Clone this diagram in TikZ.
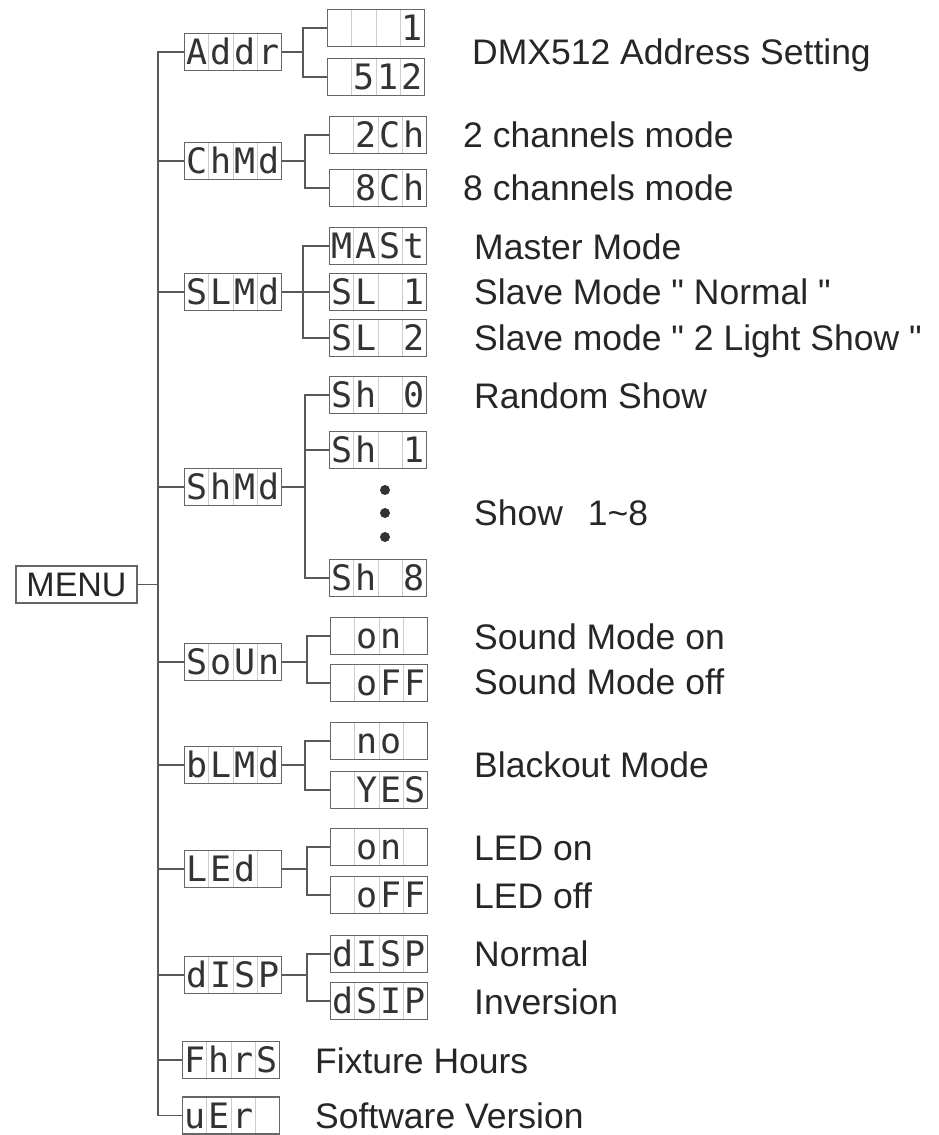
\documentclass[tikz,border=0pt]{standalone}
\usepackage{fontspec}
\setmainfont{Liberation Sans}
\newfontfamily\segfont{DejaVu Sans Mono}
\usepackage{tikz}

% four cells of the display
\newcommand{\seg}[4]{\makebox[24.25pt]{#1}\makebox[24.25pt]{#2}\makebox[24.25pt]{#3}\makebox[24.25pt]{#4}}

\begin{document}
\begin{tikzpicture}[x=1pt,y=-1pt,
  lcd/.style={draw=black!60, line width=1.5pt, fill=white,
    minimum width=97pt, minimum height=37pt, inner sep=0pt,
    text height=25pt, text depth=0pt, text=black!80,
    font=\segfont\fontsize{35}{35}\selectfont,
    path picture={\foreach \k in {1,2,3}
      \draw[black!20,line width=1pt]
        ([xshift=\k*24.25pt]path picture bounding box.north west) --
        ([xshift=\k*24.25pt]path picture bounding box.south west);}},
  lbl/.style={anchor=west, inner sep=0pt, text height=25pt, text depth=0pt,
    text=black!85, font=\fontsize{35.5}{42}\selectfont},
  wire/.style={draw=black!65, line width=1.5pt}]
  \useasboundingbox (0,0) rectangle (939,1135);
  % Menu and trunk
  \node[draw=black!60, line width=1.5pt, minimum width=121pt, minimum height=37pt,
    inner sep=0pt, text=black!85, font=\fontsize{34}{40}\selectfont] (menu) at (76.5,584.5) {MENU};
  \coordinate (trunk) at (158,584.5);
  % First level
  \node[lcd] (addr) at (233,52)   {\seg{A}{d}{d}{r}};
  \node[lcd] (chmd) at (233,161)  {\seg{C}{h}{M}{d}};
  \node[lcd] (slmd) at (233,292)  {\seg{S}{L}{M}{d}};
  \node[lcd] (shmd) at (233,487)  {\seg{S}{h}{M}{d}};
  \node[lcd] (soun) at (233,662)  {\seg{S}{o}{U}{n}};
  \node[lcd] (blmd) at (233,765)  {\seg{b}{L}{M}{d}};
  \node[lcd] (led)  at (233,869)  {\seg{L}{E}{d}{}};
  \node[lcd] (disp) at (233,975)  {\seg{d}{I}{S}{P}};
  \node[lcd] (fhrs) at (231,1060) {\seg{F}{h}{r}{S}};
  \node[lcd] (ver)  at (231,1115.5) {\seg{u}{E}{r}{}};
  \foreach \n in {addr,chmd,slmd,shmd,soun,blmd,led,disp,fhrs,ver}
    \draw[wire] (menu.east) -- (trunk) |- (\n.west);
  % Second level
  \node[lcd] (addra) at (376,28)   {\seg{}{}{}{1}};
  \node[lcd] (addrb) at (376,77)   {\seg{}{5}{1}{2}};
  \node[lcd] (chmda) at (378,135)  {\seg{}{2}{C}{h}};
  \node[lcd] (chmdb) at (378,188)  {\seg{}{8}{C}{h}};
  \node[lcd] (slmda) at (378,246)  {\seg{M}{A}{S}{t}};
  \node[lcd] (slmdb) at (378,292)  {\seg{S}{L}{}{1}};
  \node[lcd] (slmdc) at (378,338)  {\seg{S}{L}{}{2}};
  \node[lcd] (shmda) at (378,395)  {\seg{S}{h}{}{0}};
  \node[lcd] (shmdb) at (378,450)  {\seg{S}{h}{}{1}};
  \node[lcd] (shmdc) at (378,578)  {\seg{S}{h}{}{8}};
  \node[lcd] (souna) at (379,636)  {\seg{}{o}{n}{}};
  \node[lcd] (sounb) at (379,683)  {\seg{}{o}{F}{F}};
  \node[lcd] (blmda) at (379,741)  {\seg{}{n}{o}{}};
  \node[lcd] (blmdb) at (379,790)  {\seg{}{Y}{E}{S}};
  \node[lcd] (leda)  at (379,847)  {\seg{}{o}{n}{}};
  \node[lcd] (ledb)  at (379,895)  {\seg{}{o}{F}{F}};
  \node[lcd] (dispa) at (379,954)  {\seg{d}{I}{S}{P}};
  \node[lcd] (dispb) at (379,1001) {\seg{d}{S}{I}{P}};
  \foreach \p/\f in {addr/303,chmd/305,slmd/303,shmd/305,soun/307,blmd/305,led/307,disp/307}
    \coordinate (\p-f) at (\f,0 |- \p.east);
  \foreach \p/\c in {addr/addra,addr/addrb,chmd/chmda,chmd/chmdb,
      slmd/slmda,slmd/slmdb,slmd/slmdc,shmd/shmda,shmd/shmdb,shmd/shmdc,
      soun/souna,soun/sounb,blmd/blmda,blmd/blmdb,led/leda,led/ledb,
      disp/dispa,disp/dispb}
    \draw[wire] (\p.east) -- (\p-f) |- (\c.west);
  % Dots between shows
  \foreach \y in {490,513,537}
    \fill[black!80] (385,\y) circle (5pt);
  % Labels
  \node[lbl] (ladr) at (472,52)  {DMX512 Address Setting};
  \node[lbl] (lch2) at (463,135) {2 channels mode};
  \node[lbl] (lch8) at (463,188) {8 channels mode};
  \node[lbl] (lmst) at (474,247) {Master Mode};
  \node[lbl] (lsl1) at (474,292) {Slave Mode \textquotedbl{} Normal \textquotedbl};
  \node[lbl] (lsl2) at (474,338) {Slave mode \textquotedbl{} 2 Light Show \textquotedbl};
  \node[lbl] (lrnd) at (474,396) {Random Show};
  \node[lbl] (lshw) at (474,513) {Show\hspace{0.7em}1\textasciitilde 8};
  \node[lbl] (lsdn) at (474,637) {Sound Mode on};
  \node[lbl] (lsdf) at (474,682) {Sound Mode off};
  \node[lbl] (lblk) at (474,765) {Blackout Mode};
  \node[lbl] (lldn) at (474,848) {LED on};
  \node[lbl] (lldf) at (474,896) {LED off};
  \node[lbl] (lnrm) at (474,954) {Normal};
  \node[lbl] (linv) at (474,1002) {Inversion};
  \node[lbl] (lhrs) at (315,1061) {Fixture Hours};
  \node[lbl] (lver) at (315,1116) {Software Version};
\end{tikzpicture}
\end{document}
